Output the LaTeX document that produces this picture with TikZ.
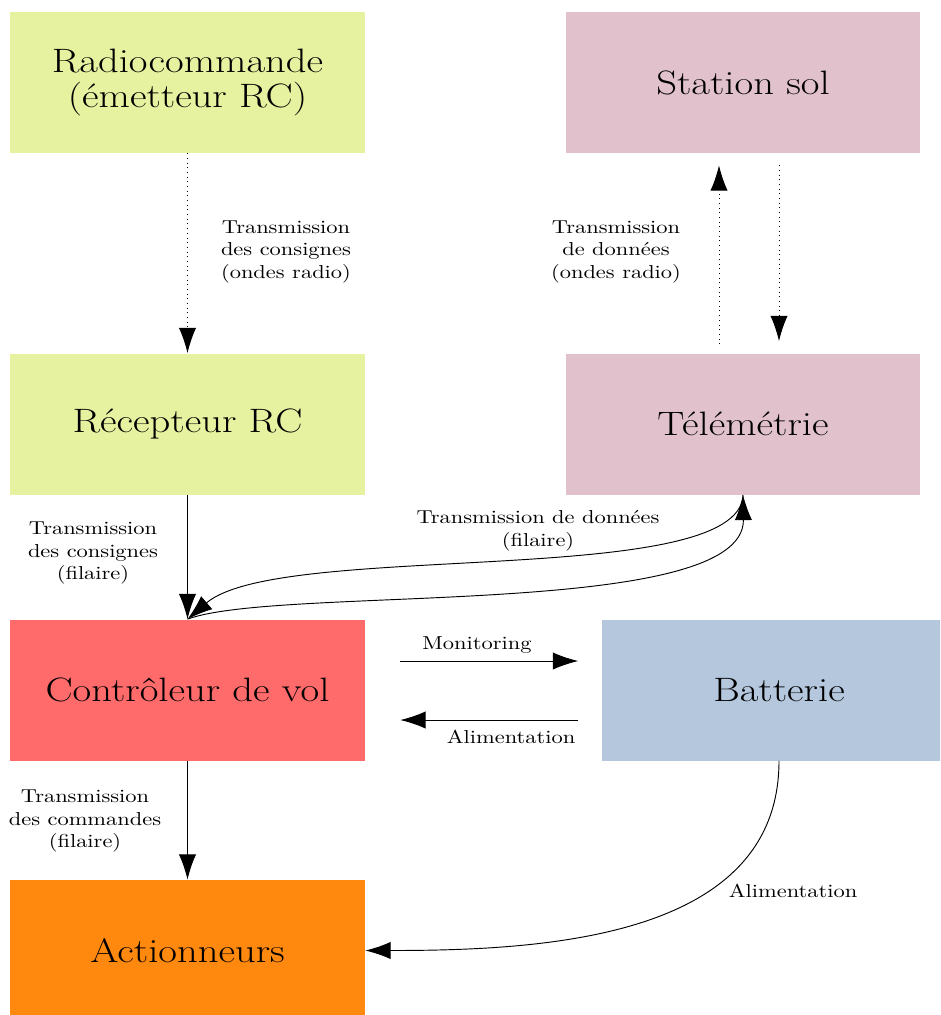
\documentclass[tikz,border=0pt]{standalone}
\usepackage{fontspec}
\setmainfont{lmroman10-regular.otf}[FakeStretch=1.2]
\newfontfamily\bigfont{lmroman17-regular.otf}[FakeStretch=1.2]
\usetikzlibrary{arrows.meta,calc}
\definecolor{cyellow}{RGB}{230,242,160}
\definecolor{cpink}{RGB}{224,193,204}
\definecolor{cred}{RGB}{255,107,107}
\definecolor{cblue}{RGB}{180,199,221}
\definecolor{corange}{RGB}{255,136,14}
\tikzset{
  box/.style={rectangle, inner sep=0pt, minimum width=189.8pt, minimum height=75.4pt,
    font=\bigfont\fontsize{18.1}{19}\selectfont, align=center},
  lbl/.style={font=\fontsize{10}{12}\selectfont, align=center, inner sep=0pt},
  arr/.style={-{Latex[length=13.5pt,width=9.2pt]}, line width=0.5pt},
}
\begin{document}
\begin{tikzpicture}[x=0.5348pt, y=-0.5348pt]
\path[use as bounding box, clip] (0,0) rectangle (940,1015);
\node[box, fill=cyellow] (rc) at (187.5,82.5) {Radiocommande\\(émetteur RC)};
\node[box, fill=cpink] (gs) at (743,82.5) {Station sol};
\node[box, fill=cyellow] (rx) at (187.5,424) {Récepteur RC};
\node[box, fill=cpink] (tm) at (743,424) {Télémétrie};
\node[box, fill=cred] (fc) at (187.5,690) {Contrôleur de vol};
\node[box, fill=cblue] (bat) at (779,690) {Batterie};
\node[box, fill=corange] (act) at (187.5,950.5) {Actionneurs};

% radio links
\draw[arr, dotted] (rc.south) -- (rx.north);
\node[lbl] (l1) at (286,252) {Transmission\\des consignes\\(ondes radio)};
\coordinate (t1) at ($(tm.north)+(-24,-9)$);
\coordinate (g1) at ($(gs.south)+(-24,12)$);
\coordinate (g2) at ($(gs.south)+(36,12)$);
\coordinate (t2) at ($(tm.north)+(36,-12)$);
\draw[arr, dotted] (t1) -- (g1);
\draw[arr, dotted] (g2) -- (t2);
\node[lbl] (l2) at (616,252) {Transmission\\de données\\(ondes radio)};

% wired links
\draw[arr] (rx.south) -- (fc.north);
\node[lbl] (l3) at (93,553) {Transmission\\des consignes\\(filaire)};
\draw[arr] (tm.south) .. controls (740,590) and (280,540) .. (fc.north);
\draw[arr] (fc.north) .. controls (280,585) and (745,620) .. (tm.south);
\node[lbl] (l4) at (538,531) {Transmission de données\\(filaire)};

\draw[arr] (fc.south) -- (act.north);
\node[lbl] (l5) at (85,821) {Transmission\\des commandes\\(filaire)};

% battery
\coordinate (m1) at ($(fc.east)+(35,-29)$);
\coordinate (m2) at ($(bat.west)+(-23,-29)$);
\coordinate (a1) at ($(bat.west)+(-23,30)$);
\coordinate (a2) at ($(fc.east)+(35,30)$);
\draw[arr] (m1) -- (m2);
\draw[arr] (a1) -- (a2);
\node[lbl] (l6) at (477,645) {Monitoring};
\node[lbl] (l7) at (511,737) {Alimentation};
\draw[arr] (bat.south) to[out=-90, in=0] (act.east);
\node[lbl] (l8) at (793,891) {Alimentation};
\end{tikzpicture}
\end{document}
